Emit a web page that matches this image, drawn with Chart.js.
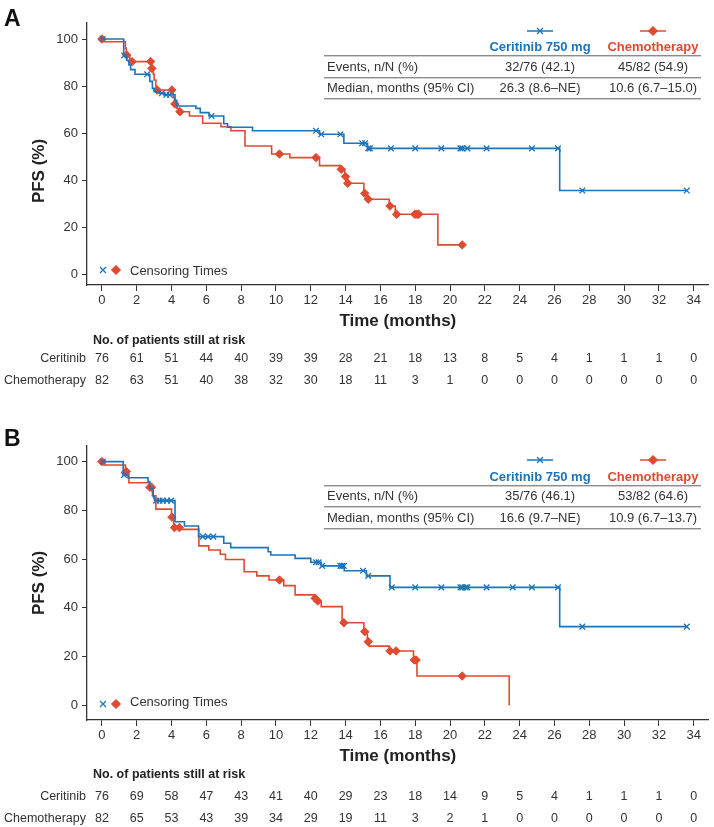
<!DOCTYPE html>
<html>
<head>
<meta charset="utf-8">
<script src="https://cdn.jsdelivr.net/npm/chart.js@4.4.1/dist/chart.umd.min.js"></script>
<style>
body { margin: 0; width: 714px; height: 827px; position: relative; background: #fff; overflow: hidden;
  font-family: "Liberation Sans", Arial, Helvetica, sans-serif; color: #333; }
canvas { position: absolute; left: 0; }
.t { position: absolute; white-space: nowrap; line-height: 1; }
.hr { position: absolute; height: 1px; background: #8c8c8c; box-shadow: 0 1px 0 #d0d0d0; }
</style>
</head>
<body>
<canvas id="chartA" width="714" height="335" style="top:0"></canvas>
<canvas id="chartB" width="714" height="350" style="top:420px"></canvas>
<script>
// time axis and y axis ticks
const xTicks = [0, 2, 4, 6, 8, 10, 12, 14, 16, 18, 20, 22, 24, 26, 28, 30, 32, 34];
const yTicks = [0, 20, 40, 60, 80, 100];

// Panel A - Kaplan-Meier steps (time in months, PFS %)
const cerA_t = [0, 1.25, 1.42, 1.55, 1.65, 1.9, 2.75, 2.9, 3.0, 3.3, 3.6, 4.2, 4.3, 5.4, 5.65, 6.15, 7.0, 7.22, 8.65, 12.5, 13.9, 15.26, 26.3, 33.6];
const cerA_s = [100, 93, 91, 89, 87, 85, 82, 79, 77.6, 77, 76.3, 74, 71.5, 70.5, 68.7, 67.3, 64, 62.5, 61.0, 59.5, 55.7, 53.5, 35.6, 35.6];
const cerA_cens = [0.05, 1.28, 2.6, 3.45, 3.7, 3.9, 6.3, 12.3, 12.6, 13.7, 14.95, 15.12, 15.3, 15.4, 16.6, 18.0, 19.5, 20.6, 20.7, 21.0, 22.1, 24.7, 26.2, 27.6, 33.6];
const chemoA_t = [0, 0.1, 1.35, 1.4, 1.6, 1.7, 2.85, 2.95, 3.0, 3.1, 3.16, 4.1, 4.17, 4.3, 4.46, 5.03, 5.79, 6.84, 7.41, 8.22, 9.75, 10.8, 12.5, 13.7, 13.95, 14.1, 15.05, 15.25, 16.5, 16.85, 19.3, 20.7];
const chemoA_s = [100, 98.8, 96, 93.2, 91.5, 90.4, 87.5, 85, 82.6, 80, 78.3, 75, 72.4, 70.5, 69.1, 67.3, 64.2, 62.7, 61.0, 54.5, 51.1, 49.6, 46.2, 44.6, 41.5, 38.7, 34.4, 31.9, 29, 25.5, 12.5, 12.5];
const chemoA_cens = [0, 1.42, 1.73, 2.8, 2.87, 3.18, 4.02, 4.19, 4.48, 10.2, 12.3, 13.75, 14.0, 14.12, 15.1, 15.3, 16.55, 16.93, 17.98, 18.1, 18.2, 20.7];

// Panel B
const cerB_t = [0, 1.22, 1.5, 2.65, 2.75, 2.95, 3.02, 4.2, 4.74, 5.55, 7.0, 7.4, 9.55, 9.7, 11.1, 12.0, 12.6, 13.92, 15.2, 16.55, 26.3, 33.6];
const cerB_s = [100, 94.5, 93.4, 91.8, 89.0, 85.6, 84.0, 75.3, 73.6, 69.2, 66.5, 64.7, 63.0, 61.7, 60.3, 58.7, 57.2, 55.2, 53.1, 48.4, 32.3, 32.3];
const cerB_cens = [0.05, 1.27, 3.12, 3.31, 3.5, 3.73, 3.98, 5.8, 6.1, 6.4, 12.3, 12.45, 12.65, 13.7, 13.8, 13.9, 15.0, 15.3, 16.65, 18.0, 19.5, 20.6, 20.7, 20.9, 21.0, 22.1, 23.6, 24.7, 26.2, 27.6, 33.6];
const chemoB_t = [0, 0.1, 1.35, 1.55, 2.72, 2.9, 3.1, 4.0, 4.12, 4.5, 5.57, 6.14, 6.8, 7.1, 8.17, 8.9, 9.6, 10.45, 11.1, 12.2, 12.35, 12.6, 13.8, 15.05, 15.25, 15.35, 16.5, 17.9, 18.1, 23.4];
const chemoB_s = [100, 98.6, 95.9, 91.3, 89.5, 86, 80.5, 77.2, 72.9, 72.2, 65.4, 63.7, 62, 59.8, 54.8, 53.1, 51.4, 49.1, 45.3, 43.9, 42.8, 40.5, 33.9, 30.2, 26.1, 24.3, 22.3, 18.6, 12.0, 0];
const chemoB_cens = [0, 1.4, 2.75, 2.85, 4.02, 4.17, 4.45, 10.2, 12.25, 12.4, 13.9, 15.1, 15.3, 16.55, 16.9, 17.95, 18.05, 20.7];

// numbers at risk (one per x tick)
const cerA_risk = [76, 61, 51, 44, 40, 39, 39, 28, 21, 18, 13, 8, 5, 4, 1, 1, 1, 0];
const chemoA_risk = [82, 63, 51, 40, 38, 32, 30, 18, 11, 3, 1, 0, 0, 0, 0, 0, 0, 0];
const cerB_risk = [76, 69, 58, 47, 43, 41, 40, 29, 23, 18, 14, 9, 5, 4, 1, 1, 1, 0];
const chemoB_risk = [82, 65, 53, 43, 39, 34, 29, 19, 11, 3, 2, 1, 0, 0, 0, 0, 0, 0];

// inset table
const statLabels = ['Events, n/N (%)', 'Median, months (95% CI)'];
const cerA_stats = ['32/76 (42.1)', '26.3 (8.6–NE)'];
const chemoA_stats = ['45/82 (54.9)', '10.6 (6.7–15.0)'];
const cerB_stats = ['35/76 (46.1)', '16.6 (9.7–NE)'];
const chemoB_stats = ['53/82 (64.6)', '10.9 (6.7–13.7)'];

const BLUE = '#1b74bc';
const RED = '#e04a30';
Chart.defaults.font.family = '"Liberation Sans", Arial, Helvetica, sans-serif';
Chart.defaults.color = '#333';

function steps(ts, ss) {
  return ts.map((t, i) => ({ x: t, y: ss[i] }));
}
// place censor marks on the curve
function onCurve(ts, ss, cens) {
  return cens.map(c => {
    let v = ss[0];
    for (let i = 0; i < ts.length; i++) if (ts[i] <= c) v = ss[i];
    return { x: c, y: v };
  });
}

function markerPlugin(items) {
  return {
    id: 'markers',
    afterDraw(chart) {
      const ctx = chart.ctx;
      items.forEach(m => {
        ctx.save();
        ctx.strokeStyle = m.color;
        ctx.fillStyle = m.color;
        if (m.line) {
          ctx.lineWidth = 1.5;
          ctx.beginPath();
          ctx.moveTo(m.x - 13, m.y);
          ctx.lineTo(m.x + 13, m.y);
          ctx.stroke();
        }
        ctx.lineWidth = 1.3;
        Chart.helpers.drawPoint(ctx, { pointStyle: m.style, radius: 4.2, borderWidth: 1.3 }, m.x, m.y);
        ctx.restore();
      });
    }
  };
}

function makeChart(id, padTop, yMin, yMax, cer, chemo, markers) {
  return new Chart(document.getElementById(id), {
    type: 'line',
    data: {
      datasets: [
        { data: steps(cer.t, cer.s), borderColor: BLUE, borderWidth: 1.6, stepped: true, pointRadius: 0 },
        { data: steps(chemo.t, chemo.s), borderColor: RED, borderWidth: 1.6, stepped: true, pointRadius: 0 },
        { data: onCurve(cer.t, cer.s, cer.c), showLine: false, pointStyle: 'crossRot', pointRadius: 4,
          borderColor: BLUE, borderWidth: 1.3 },
        { data: onCurve(chemo.t, chemo.s, chemo.c), showLine: false, pointStyle: 'rectRot', pointRadius: 4.2,
          backgroundColor: RED, borderColor: RED, borderWidth: 1 }
      ]
    },
    options: {
      responsive: false,
      animation: false,
      layout: { padding: { top: padTop, left: 0, right: 2, bottom: 0 } },
      plugins: { legend: { display: false }, tooltip: { enabled: false } },
      scales: {
        x: {
          type: 'linear', min: -0.857, max: 34.86,
          afterBuildTicks: s => { s.ticks = xTicks.map(v => ({ value: v })); },
          afterFit: s => { s.height = 50; },
          grid: { drawOnChartArea: false, tickLength: 6, tickColor: '#333' },
          border: { color: '#333', width: 1.3 },
          ticks: { font: { size: 13 }, padding: 2, maxRotation: 0, autoSkip: false },
          title: { display: true, text: 'Time (months)', color: '#222', font: { size: 17, weight: 'bold' },
            padding: { top: 0, bottom: 3 } }
        },
        y: {
          min: yMin, max: yMax,
          afterBuildTicks: s => { s.ticks = yTicks.map(v => ({ value: v })); },
          afterFit: s => { s.width = 87; },
          grid: { drawOnChartArea: false, tickLength: 5, tickColor: '#333' },
          border: { color: '#333', width: 1.3 },
          ticks: { font: { size: 13 }, padding: 4 }
        }
      }
    },
    plugins: [markerPlugin(markers)]
  });
}

function text(str, x, y, css, anchor) {
  const d = document.createElement('div');
  d.className = 't';
  d.textContent = str;
  d.style.left = x + 'px';
  d.style.top = y + 'px';
  d.style.cssText += css || '';
  const tx = anchor === 'center' ? '-50%' : anchor === 'right' ? '-100%' : '0';
  d.style.transform = 'translate(' + tx + ',-50%)';
  document.body.appendChild(d);
  return d;
}
function hr(x, y, w) {
  const d = document.createElement('div');
  d.className = 'hr';
  d.style.left = x + 'px';
  d.style.top = y + 'px';
  d.style.width = w + 'px';
  document.body.appendChild(d);
}

// rows: header, line, row1, line, row2, line ; risk: offsets below the x axis ; pfsShift: y title offset
function panel(letter, chart, top, cerStats, chemoStats, cerRisk, chemoRisk, rows, risk, pfsShift) {
  text(letter, 4, top + 18, 'font-size:23px;font-weight:bold;color:#111;');
  const area = chart.chartArea;
  const y0 = top + chart.scales.y.getPixelForValue(0);
  const y100 = top + chart.scales.y.getPixelForValue(100);
  const pfs = text('PFS (%)', 38, (y0 + y100) / 2 + pfsShift, 'font-size:17px;font-weight:bold;color:#222;', 'center');
  pfs.style.transform = 'translate(-50%,-50%) rotate(-90deg)';

  const cx1 = 540, cx2 = 653;
  text('Ceritinib 750 mg', cx1, rows[0], 'font-size:13px;font-weight:bold;color:' + BLUE + ';', 'center');
  text('Chemotherapy', cx2, rows[0], 'font-size:13px;font-weight:bold;color:' + RED + ';', 'center');
  hr(324, rows[1], 377);
  hr(324, rows[3], 377);
  hr(324, rows[5], 377);
  [rows[2], rows[4]].forEach((y, i) => {
    text(statLabels[i], 327, y, 'font-size:13px;');
    text(cerStats[i], cx1, y, 'font-size:13px;', 'center');
    text(chemoStats[i], cx2, y, 'font-size:13px;', 'center');
  });

  // censoring legend
  text('Censoring Times', 130, y0 - 4, 'font-size:13px;');

  // numbers at risk
  const rt = area.bottom + top;
  text('No. of patients still at risk', 93, rt + risk[0], 'font-size:12.5px;font-weight:bold;color:#222;');
  text('Ceritinib', 86, rt + risk[1], 'font-size:12.5px;', 'right');
  text('Chemotherapy', 86, rt + risk[2], 'font-size:12.5px;', 'right');
  xTicks.forEach((t, i) => {
    const x = chart.scales.x.getPixelForValue(t);
    text(String(cerRisk[i]), x, rt + risk[1], 'font-size:12.5px;', 'center');
    text(String(chemoRisk[i]), x, rt + risk[2], 'font-size:12.5px;', 'center');
  });
}

const chartA = makeChart('chartA', 23, -4.55, 106.8,
  { t: cerA_t, s: cerA_s, c: cerA_cens }, { t: chemoA_t, s: chemoA_s, c: chemoA_cens },
  [{ x: 540, y: 31, style: 'crossRot', color: BLUE, line: true },
   { x: 653, y: 31, style: 'rectRot', color: RED, line: true },
   { x: 103, y: 270, style: 'crossRot', color: BLUE },
   { x: 116, y: 270, style: 'rectRot', color: RED }]);
const chartB = makeChart('chartB', 26, -6.03, 106.4,
  { t: cerB_t, s: cerB_s, c: cerB_cens }, { t: chemoB_t, s: chemoB_s, c: chemoB_cens },
  [{ x: 540, y: 40, style: 'crossRot', color: BLUE, line: true },
   { x: 653, y: 40, style: 'rectRot', color: RED, line: true },
   { x: 103, y: 284, style: 'crossRot', color: BLUE },
   { x: 116, y: 284, style: 'rectRot', color: RED }]);

panel('A', chartA, 0, cerA_stats, chemoA_stats, cerA_risk, chemoA_risk,
  [46, 55, 65.5, 76.5, 86.5, 98], [55, 73, 95], 14);
panel('B', chartB, 420, cerB_stats, chemoB_stats, cerB_risk, chemoB_risk,
  [476, 484.5, 495, 506, 516.5, 527.5], [54, 76, 98], 0);
</script>
</body>
</html>
